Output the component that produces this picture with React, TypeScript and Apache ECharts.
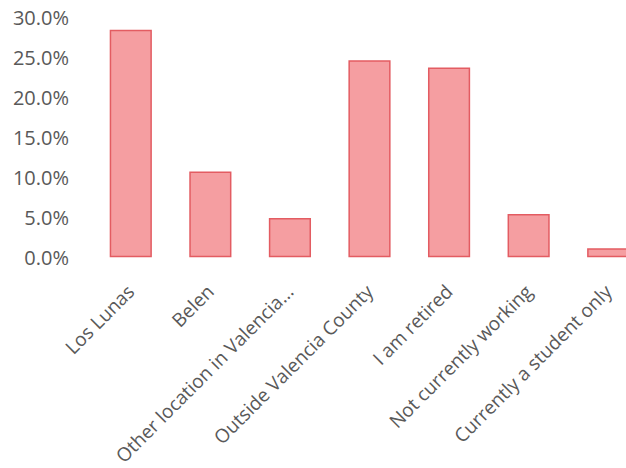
import React, { useEffect, useRef } from "react";
import * as echarts from "echarts";

const categories = [
  "Los Lunas",
  "Belen",
  "Other location in Valencia...",
  "Outside Valencia County",
  "I am retired",
  "Not currently working",
  "Currently a student only",
];
const values = [28.4, 10.7, 4.9, 24.6, 23.7, 5.4, 1.1];
const yTicks = { min: 0, max: 30, interval: 5 };

export default function App() {
  const ref = useRef<HTMLDivElement>(null);
  useEffect(() => {
    if (!ref.current) return;
    const chart = echarts.init(ref.current, undefined, { renderer: "svg" });
    chart.setOption({
      animation: false,
      grid: { left: 91, right: 2, top: 17, bottom: 468 - 258 },
      xAxis: {
        type: "category",
        data: categories,
        axisLine: { show: false },
        axisTick: { show: false },
        axisLabel: {
          rotate: 45,
          interval: 0,
          margin: 31,
          color: "#595959",
          fontFamily: "Open Sans",
          fontSize: 19,
        },
      },
      yAxis: {
        type: "value",
        min: yTicks.min,
        max: yTicks.max,
        interval: yTicks.interval,
        splitLine: { show: false },
        axisLine: { show: false },
        axisTick: { show: false },
        axisLabel: {
          margin: 22,
          color: "#595959",
          fontFamily: "Open Sans",
          fontSize: 20,
          formatter: (v: number) => v.toFixed(1) + "%",
        },
      },
      series: [
        {
          type: "bar",
          data: values,
          barWidth: "53%",
          itemStyle: {
            color: "#F59EA1",
            borderColor: "#E35C62",
            borderWidth: 1.5,
          },
        },
      ],
    });
    return () => chart.dispose();
  }, []);
  return (
    <div style={{ width: 626, height: 468, position: "absolute", left: 0, top: 0, overflow: "hidden" }}>
      <div ref={ref} style={{ width: 650, height: 468 }} />
    </div>
  );
}
